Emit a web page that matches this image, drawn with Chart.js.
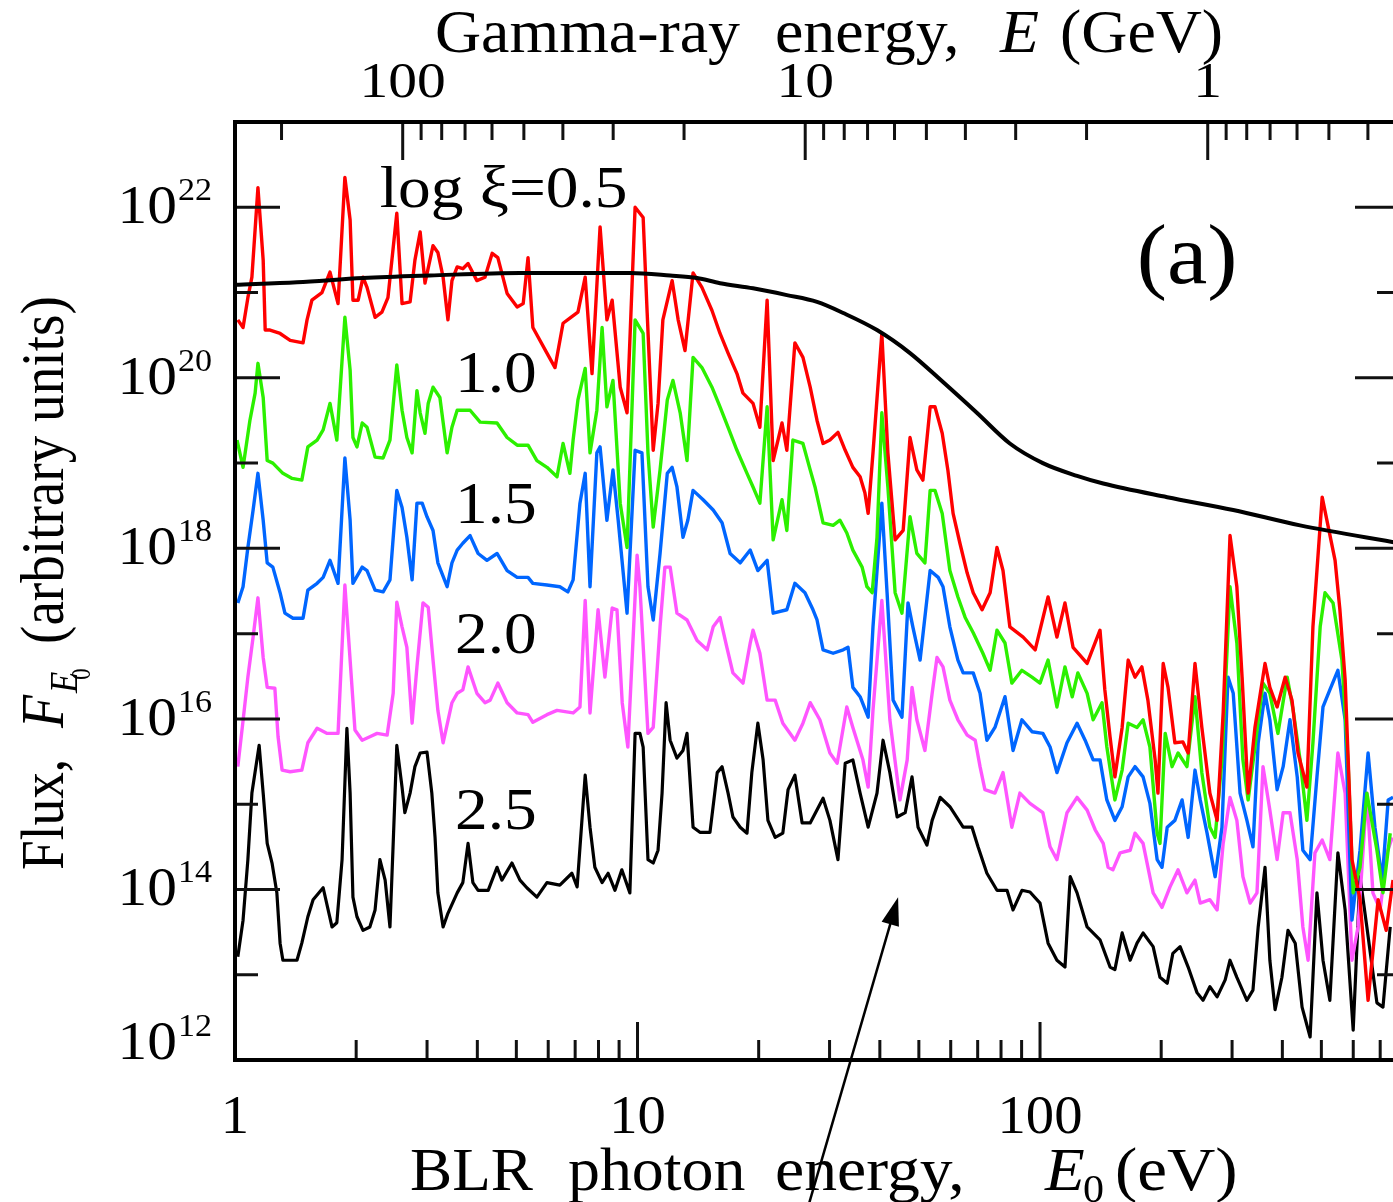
<!DOCTYPE html>
<html>
<head>
<meta charset="utf-8">
<script src="https://cdn.jsdelivr.net/npm/chart.js@4.4.0/dist/chart.umd.min.js"></script>
<style>
  html, body { margin: 0; padding: 0; background: #fff; overflow: hidden; }
  canvas { display: block; }
</style>
</head>
<body>
<canvas id="spectrum-chart" width="1402" height="1202"></canvas>
<script>
// ==== data (log10 of E0 in eV, log10 of flux) ====
var redLogE0 = [.007,.020,.032,.042,.057,.070,.075,.087,.112,.137,.169,.179,.191,.216,.236,.256,.273,.286,.293,.306,.318,.328,.348,.365,.380,.402,.415,.435,.447,.460,.472,.492,.504,.517,.529,.539,.552,.566,.579,.601,.621,.639,.653,.676,.701,.716,.728,.740,.775,.795,.815,.832,.852,.870,.887,.907,.924,.937,.957,.974,.994,1.014,1.024,1.039,1.051,1.063,1.086,1.101,1.118,1.138,1.160,1.185,1.205,1.225,1.247,1.262,1.287,1.304,1.322,1.337,1.359,1.371,1.391,1.411,1.429,1.446,1.461,1.478,1.498,1.516,1.535,1.553,1.565,1.573,1.585,1.607,1.622,1.640,1.660,1.677,1.694,1.709,1.727,1.739,1.757,1.771,1.784,1.801,1.819,1.834,1.856,1.876,1.893,1.908,1.925,1.958,1.988,2.020,2.042,2.062,2.082,2.117,2.149,2.161,2.174,2.186,2.204,2.219,2.236,2.253,2.268,2.286,2.293,2.306,2.318,2.335,2.355,2.368,2.385,2.402,2.422,2.440,2.455,2.472,2.489,2.502,2.517,2.534,2.559,2.571,2.589,2.609,2.626,2.641,2.663,2.678,2.701,2.733,2.745,2.758,2.775,2.795,2.815,2.840,2.860,2.877];
var redLogF = [20.68,20.59,20.94,21.18,22.23,21.38,20.56,20.56,20.52,20.44,20.41,20.68,20.91,21.00,21.24,20.87,22.35,21.85,20.91,20.91,21.18,21.06,20.71,20.77,20.94,21.93,20.87,20.89,21.38,21.71,21.11,21.55,21.47,21.18,20.68,21.14,21.30,21.28,21.34,21.14,21.18,21.46,21.41,20.99,20.83,20.87,21.41,20.59,20.29,20.12,20.64,20.70,20.77,21.18,20.05,21.77,20.68,20.91,19.89,19.59,22.00,21.88,20.76,19.15,19.70,20.68,21.14,20.68,20.32,21.23,21.06,20.79,20.52,20.29,20.05,19.82,19.70,19.42,20.91,19.03,19.47,19.15,20.41,20.24,19.89,19.50,19.23,19.27,19.36,19.15,18.95,18.84,18.65,18.41,19.12,20.52,19.12,18.10,18.21,19.30,18.92,18.80,19.66,19.66,19.35,18.92,18.41,18.06,17.71,17.48,17.28,17.48,18.01,17.74,17.08,16.96,16.81,17.43,16.96,17.36,16.84,16.65,17.04,16.34,15.79,15.32,15.90,16.69,16.49,16.61,16.22,15.52,15.13,16.65,16.37,15.72,15.73,15.60,16.65,15.90,15.13,14.81,16.07,18.15,17.55,16.49,15.13,15.90,16.65,16.37,16.14,16.49,16.22,15.60,15.20,17.08,18.60,17.86,17.28,16.46,14.35,13.88,12.70,13.88,13.52,14.11];

var greenLogE0 = [.005,.020,.037,.050,.057,.070,.080,.094,.119,.142,.166,.181,.204,.219,.236,.253,.273,.286,.293,.303,.316,.328,.348,.368,.385,.402,.415,.427,.440,.452,.460,.472,.480,.492,.509,.527,.539,.552,.584,.609,.651,.676,.701,.728,.750,.775,.800,.815,.832,.840,.852,.870,.882,.899,.912,.924,.939,.957,.974,.994,1.014,1.026,1.039,1.056,1.074,1.088,1.106,1.123,1.138,1.160,1.185,1.205,1.225,1.247,1.272,1.287,1.304,1.322,1.337,1.359,1.371,1.386,1.411,1.429,1.441,1.461,1.486,1.503,1.520,1.535,1.558,1.570,1.583,1.595,1.607,1.622,1.640,1.657,1.677,1.694,1.714,1.727,1.739,1.757,1.776,1.796,1.814,1.834,1.858,1.876,1.893,1.913,1.930,1.955,1.980,2.000,2.020,2.042,2.062,2.080,2.094,2.117,2.132,2.154,2.166,2.186,2.204,2.219,2.241,2.256,2.273,2.291,2.298,2.311,2.328,2.343,2.365,2.385,2.402,2.422,2.435,2.452,2.472,2.489,2.504,2.517,2.534,2.554,2.571,2.591,2.614,2.629,2.646,2.663,2.678,2.696,2.708,2.728,2.750,2.765,2.778,2.795,2.812,2.837,2.852,2.870];
var greenLogF = [19.27,18.95,19.50,19.82,20.17,19.77,19.03,19.00,18.88,18.82,18.80,19.19,19.27,19.39,19.70,19.27,20.71,20.09,19.30,19.19,19.47,19.42,19.07,19.06,19.27,20.15,19.62,19.30,19.12,19.85,19.59,19.35,19.70,19.89,19.77,19.12,19.42,19.62,19.62,19.48,19.47,19.30,19.21,19.21,19.03,18.95,18.84,19.23,18.88,19.27,19.74,20.11,19.12,19.62,20.59,19.66,19.97,18.53,18.01,20.68,20.52,19.12,18.25,18.92,19.74,19.97,19.59,19.03,20.24,20.12,19.89,19.66,19.42,19.15,18.88,18.72,18.53,19.66,18.10,18.57,18.21,19.27,19.23,18.92,18.72,18.30,18.27,18.33,18.18,17.98,17.78,17.55,17.48,18.13,19.59,18.72,17.48,17.24,18.37,17.94,17.83,18.68,18.68,18.41,17.74,17.43,17.19,17.01,16.77,16.57,17.04,16.89,16.42,16.57,16.49,16.42,16.69,16.14,16.61,16.26,16.54,16.30,15.99,16.19,15.67,15.05,15.40,15.95,15.90,15.99,15.67,14.66,14.54,15.83,15.44,15.60,15.44,16.26,15.37,14.73,14.61,15.52,17.55,16.89,15.52,15.05,15.67,16.42,16.30,15.83,16.49,16.10,15.52,14.81,15.72,17.08,17.48,17.36,16.69,15.52,13.96,14.26,15.13,14.46,13.96,14.66];

var blueLogE0 = [.007,.020,.032,.045,.057,.070,.080,.094,.112,.124,.144,.169,.181,.204,.219,.236,.256,.273,.286,.293,.316,.328,.348,.368,.385,.402,.415,.427,.440,.452,.465,.477,.492,.504,.527,.539,.552,.566,.584,.604,.626,.651,.676,.701,.728,.740,.775,.807,.827,.840,.857,.870,.882,.899,.907,.924,.939,.952,.974,.994,1.011,1.026,1.039,1.056,1.074,1.086,1.098,1.113,1.125,1.138,1.163,1.188,1.210,1.230,1.255,1.280,1.299,1.322,1.337,1.371,1.391,1.416,1.436,1.446,1.461,1.486,1.511,1.523,1.535,1.553,1.573,1.585,1.607,1.620,1.635,1.657,1.672,1.684,1.702,1.727,1.747,1.759,1.776,1.796,1.809,1.834,1.851,1.868,1.888,1.913,1.933,1.955,1.980,2.007,2.025,2.042,2.067,2.092,2.112,2.132,2.149,2.166,2.186,2.204,2.219,2.236,2.256,2.273,2.291,2.303,2.316,2.335,2.353,2.368,2.385,2.398,2.415,2.435,2.452,2.467,2.480,2.497,2.514,2.529,2.542,2.559,2.571,2.589,2.604,2.621,2.639,2.653,2.671,2.688,2.703,2.720,2.740,2.758,2.775,2.795,2.815,2.832,2.850,2.865,2.877];
var blueLogF = [17.36,17.55,18.01,18.45,18.88,18.33,17.83,17.78,17.48,17.24,17.18,17.18,17.51,17.59,17.66,17.86,17.59,19.06,18.33,17.59,17.78,17.74,17.51,17.49,17.63,18.68,18.48,18.13,17.63,18.53,18.53,18.37,18.21,17.83,17.55,17.83,17.98,18.06,18.15,17.94,17.86,17.94,17.74,17.66,17.66,17.59,17.57,17.55,17.49,17.63,18.53,18.88,17.55,19.12,19.19,18.33,18.92,18.33,17.24,19.15,19.12,17.55,17.16,17.94,18.88,18.95,18.72,18.13,18.33,18.68,18.57,18.45,18.30,17.94,17.83,17.98,17.74,17.86,17.24,17.28,17.59,17.48,17.28,17.16,16.81,16.77,16.81,16.84,16.37,16.26,16.02,17.08,18.53,17.48,16.22,16.02,17.36,17.08,16.69,17.74,17.66,17.55,17.08,16.69,16.54,16.54,16.30,15.75,15.90,16.26,15.63,15.99,15.85,15.83,15.67,15.37,15.72,15.95,15.75,15.52,15.52,15.05,14.81,14.97,15.32,15.44,15.32,15.01,14.35,14.26,14.73,14.81,15.05,14.61,15.40,15.05,14.66,14.15,14.73,16.49,16.30,15.13,14.81,14.50,15.72,16.30,15.99,15.17,15.44,15.99,15.32,14.46,14.35,15.32,16.14,16.34,16.57,15.99,13.64,14.46,15.60,14.73,14.11,15.05,15.08];

var magentaLogE0 = [.007,.020,.032,.045,.057,.070,.080,.099,.107,.117,.137,.166,.181,.204,.229,.256,.273,.286,.298,.316,.335,.353,.378,.393,.402,.415,.427,.440,.452,.467,.480,.492,.504,.517,.539,.552,.566,.579,.601,.621,.634,.653,.676,.701,.728,.740,.775,.800,.840,.857,.870,.882,.902,.919,.937,.949,.962,.976,.999,1.006,1.026,1.039,1.056,1.068,1.081,1.098,1.123,1.148,1.173,1.188,1.205,1.222,1.237,1.262,1.280,1.287,1.304,1.322,1.342,1.361,1.391,1.411,1.429,1.453,1.478,1.496,1.520,1.535,1.560,1.573,1.585,1.607,1.627,1.652,1.670,1.682,1.694,1.714,1.732,1.744,1.759,1.776,1.796,1.819,1.839,1.851,1.863,1.888,1.908,1.930,1.950,1.975,2.007,2.025,2.042,2.067,2.092,2.117,2.137,2.157,2.169,2.181,2.199,2.224,2.236,2.256,2.281,2.303,2.323,2.343,2.365,2.385,2.398,2.422,2.440,2.455,2.472,2.489,2.504,2.522,2.539,2.554,2.571,2.589,2.604,2.621,2.639,2.653,2.666,2.683,2.701,2.720,2.740,2.758,2.775,2.790,2.812,2.827,2.845,2.862,2.875];
var magentaLogF = [15.44,15.98,16.49,16.96,17.42,16.72,16.37,16.36,15.79,15.40,15.38,15.40,15.72,15.89,15.83,15.83,17.57,16.69,15.87,15.75,15.79,15.83,15.81,16.30,17.37,17.08,16.84,15.95,16.61,17.36,17.31,16.69,16.10,15.72,16.19,16.30,16.34,16.61,16.30,16.19,16.22,16.42,16.19,16.07,16.05,15.96,16.05,16.10,16.07,16.14,17.39,16.07,17.28,16.49,17.30,17.28,16.19,15.67,17.92,17.55,15.83,15.90,17.08,17.78,17.78,17.24,17.16,16.92,16.81,17.08,17.19,16.84,16.54,16.42,16.89,17.04,16.77,16.22,16.22,15.95,15.75,15.95,16.19,15.99,15.60,15.48,16.14,15.90,15.52,15.20,16.10,17.39,15.99,15.05,15.52,16.37,15.99,15.63,16.30,16.72,16.61,16.22,15.99,15.81,15.75,15.44,15.17,15.13,15.37,14.73,15.13,15.01,14.90,14.50,14.35,14.90,15.08,14.93,14.70,14.54,14.26,14.23,14.43,14.46,14.66,14.54,13.96,13.79,14.03,14.23,13.96,14.11,13.84,13.88,13.76,14.54,15.08,14.81,14.15,13.84,13.96,15.44,14.93,14.35,14.90,14.90,14.35,13.56,13.17,14.43,14.58,14.35,15.60,15.13,13.17,13.56,15.13,13.96,13.76,14.43,14.61];

var blackLogE0 = [.007,.020,.032,.042,.060,.070,.080,.092,.104,.112,.119,.154,.166,.181,.194,.219,.241,.253,.266,.278,.286,.293,.303,.318,.335,.348,.360,.373,.385,.393,.402,.415,.422,.435,.447,.460,.477,.489,.497,.504,.517,.529,.552,.566,.579,.591,.604,.629,.651,.663,.688,.708,.725,.750,.775,.807,.837,.850,.870,.882,.894,.912,.927,.944,.961,.981,.994,1.006,1.014,1.026,1.039,1.051,1.061,1.071,1.081,1.098,1.113,1.123,1.138,1.155,1.180,1.198,1.210,1.225,1.237,1.255,1.272,1.284,1.299,1.312,1.324,1.342,1.361,1.374,1.391,1.409,1.429,1.461,1.478,1.498,1.516,1.535,1.553,1.573,1.595,1.610,1.627,1.645,1.665,1.682,1.697,1.719,1.732,1.752,1.776,1.809,1.831,1.846,1.868,1.893,1.918,1.933,1.955,1.975,2.000,2.020,2.042,2.062,2.075,2.092,2.117,2.149,2.174,2.186,2.204,2.224,2.241,2.256,2.281,2.298,2.316,2.330,2.348,2.368,2.390,2.405,2.422,2.440,2.460,2.472,2.489,2.514,2.529,2.542,2.559,2.571,2.584,2.601,2.616,2.634,2.651,2.671,2.688,2.703,2.720,2.740,2.758,2.778,2.795,2.812,2.837,2.852,2.870];
var blackLogF = [13.21,13.64,14.35,15.13,15.69,15.13,14.54,14.31,13.96,13.37,13.17,13.17,13.37,13.68,13.88,14.02,13.56,13.61,14.35,15.89,15.13,13.91,13.68,13.52,13.56,13.76,14.35,14.11,13.56,14.54,15.69,15.20,14.90,15.13,15.44,15.60,15.61,15.13,14.61,13.96,13.56,13.72,13.96,14.08,14.54,14.08,13.99,13.99,14.26,14.11,14.31,14.11,14.02,13.91,14.08,14.05,14.19,14.03,15.34,14.73,14.26,14.08,14.19,13.99,14.23,13.96,15.83,15.83,15.67,14.35,14.31,14.46,15.13,16.19,15.75,15.54,15.63,15.83,14.73,14.67,14.67,15.37,15.44,15.13,14.85,14.73,14.66,15.37,15.95,15.52,14.81,14.61,14.66,15.17,15.34,14.78,14.78,15.07,14.81,14.35,15.48,15.52,15.13,14.73,15.13,15.75,15.37,14.85,14.90,15.32,14.73,14.52,14.81,15.08,14.97,14.73,14.73,14.50,14.19,13.99,13.99,13.76,13.99,13.97,13.84,13.37,13.17,13.09,14.15,13.96,13.56,13.41,13.09,13.06,13.49,13.17,13.37,13.49,13.33,12.97,12.90,13.25,13.33,13.09,12.79,12.70,12.86,12.74,12.94,13.17,12.97,12.70,12.82,13.56,14.26,13.17,12.59,12.97,13.52,13.37,12.62,12.27,13.96,13.17,12.70,14.43,13.76,12.35,14.15,13.56,12.67,12.62,13.56];

// smooth black curve
var curveLogE0 = [0,.154,.318,.484,.708,.981,1.081,1.148,1.205,1.287,1.371,1.446,1.511,1.595,1.677,1.759,1.843,1.925,2.007,2.092,2.157,2.316,2.480,2.646,2.894];
var curveLogF = [21.09,21.12,21.17,21.20,21.23,21.23,21.20,21.17,21.11,21.05,20.97,20.89,20.76,20.56,20.29,19.95,19.59,19.23,19.00,18.85,18.76,18.60,18.45,18.27,18.06];

// axes
var e0Min = 1, e0Max = 784;          // BLR photon energy range (eV)
var gammaTimesE0 = 261;              // E (GeV) = 261 / E0 (eV), top axis
var fluxMin = 1e12, fluxMax = 1e23;
var bottomTickLabels = [1, 10, 100];
var topTickLabels = [100, 10, 1];
var yLabelExps = [12, 14, 16, 18, 20, 22];

// curve labels (E0, log flux at text baseline)
var curveLabelText = ['log \u03be=0.5', '1.0', '1.5', '2.0', '2.5'];
var curveLabelE0 = [2.29, 3.52, 3.52, 3.52, 3.52];
var curveLabelLogF = [22.0, 19.83, 18.30, 16.77, 14.71];

var SERIF = '"Liberation Serif", "Times New Roman", serif';
function font(size, italic) { return (italic ? 'italic ' : '') + size + 'px ' + SERIF; }

function toPoints(logE0, logF) {
    return logE0.map(function (lx, i) { return { x: Math.pow(10, lx), y: Math.pow(10, logF[i]) }; });
}

// the figure's lettering is a little wider than plain Times, so text gets a horizontal stretch
function drawText(ctx, text, x, y, size, o) {
    o = o || {};
    ctx.save();
    ctx.translate(x, y);
    if (o.rotate) ctx.rotate(o.rotate);
    ctx.scale(o.sx || 1, 1);
    ctx.font = font(size, o.italic);
    ctx.textAlign = o.align || 'left';
    ctx.fillText(text, 0, 0);
    ctx.restore();
}

// ====Axes, frame and text drawn the way the paper figure does it====
var paperAxes = {
    id: 'paperAxes',
    afterDatasetsDraw: function (chart) {
        var ctx = chart.ctx, a = chart.chartArea;
        var sx = chart.scales.x, sy = chart.scales.y;
        ctx.save();

        // inward ticks
        ctx.strokeStyle = '#111';
        ctx.lineWidth = 3;
        ctx.beginPath();
        [1, 10, 100].forEach(function (dec) {
            for (var m = 1; m <= 9; m++) {
                var v = m * dec;
                if (v > e0Max) break;
                var px = sx.getPixelForValue(v), len = m === 1 ? 38 : 20;
                ctx.moveTo(px, a.bottom); ctx.lineTo(px, a.bottom - len);
            }
        });
        [0.1, 1, 10, 100].forEach(function (dec) {
            for (var m = 1; m <= 9; m++) {
                var e0 = gammaTimesE0 / (m * dec);
                if (e0 < e0Min || e0 > e0Max) continue;
                var px = sx.getPixelForValue(e0), len = m === 1 ? 38 : 18;
                ctx.moveTo(px, a.top); ctx.lineTo(px, a.top + len);
            }
        });
        for (var e = 13; e <= 22; e++) {
            var py = sy.getPixelForValue(Math.pow(10, e)), len = e % 2 === 0 ? 45 : 23;
            ctx.moveTo(a.left, py); ctx.lineTo(a.left + len, py);
            ctx.moveTo(a.right, py); ctx.lineTo(a.right - len, py);
        }
        ctx.stroke();

        // frame
        ctx.strokeStyle = '#000';
        ctx.lineWidth = 4;
        ctx.strokeRect(a.left, a.top, a.right - a.left, a.bottom - a.top);

        ctx.fillStyle = '#000';
        ctx.textBaseline = 'alphabetic';

        // y tick labels 10^n (the lowest one sits raised above the axis)
        yLabelExps.forEach(function (n) {
            var py = sy.getPixelForValue(Math.pow(10, n)) - (n === yLabelExps[0] ? 17 : 0);
            drawText(ctx, '10', a.left - 58, py + 16, 54, { align: 'right', sx: 1.1 });
            drawText(ctx, String(n), a.left - 57, py - 7, 31, { sx: 1.1 });
        });

        // bottom and top tick labels
        bottomTickLabels.forEach(function (v) {
            drawText(ctx, String(v), sx.getPixelForValue(v), a.bottom + 73, 54, { align: 'center', sx: 1.05 });
        });
        topTickLabels.forEach(function (v) {
            drawText(ctx, String(v), sx.getPixelForValue(gammaTimesE0 / v), a.top - 25, 50, { align: 'center', sx: 1.15 });
        });

        // axis titles
        drawText(ctx, 'Gamma-ray', 435, 52, 62, { sx: 1.03 });
        drawText(ctx, 'energy,', 775, 52, 62, { sx: 1.03 });
        drawText(ctx, 'E', 1000, 52, 62, { sx: 1.03, italic: true });
        drawText(ctx, '(GeV)', 1060, 52, 62, { sx: 1.03 });

        drawText(ctx, 'BLR', 410, 1190, 62, { sx: 1.02 });
        drawText(ctx, 'photon', 568, 1190, 62, { sx: 1.03 });
        drawText(ctx, 'energy,', 775, 1190, 62, { sx: 1.06 });
        drawText(ctx, 'E', 1045, 1190, 62, { sx: 1.05, italic: true });
        drawText(ctx, '0', 1083, 1202, 40, { sx: 1.05 });
        drawText(ctx, '(eV)', 1115, 1190, 62, { sx: 1.08 });

        var up = -Math.PI / 2;
        drawText(ctx, 'Flux,', 63, 870, 62, { rotate: up, sx: 0.86 });
        drawText(ctx, 'F', 63, 728, 62, { rotate: up, sx: 0.87, italic: true });
        drawText(ctx, 'E', 77, 693, 40, { rotate: up, sx: 0.87, italic: true });
        drawText(ctx, '0', 90, 680, 27, { rotate: up, sx: 0.87 });
        drawText(ctx, '(arbitrary units)', 63, 644, 62, { rotate: up, sx: 0.89 });

        // curve labels and panel letter
        curveLabelText.forEach(function (t, i) {
            drawText(ctx, t, sx.getPixelForValue(curveLabelE0[i]), sy.getPixelForValue(Math.pow(10, curveLabelLogF[i])), 60, { sx: 1.09 });
        });
        drawText(ctx, '(a)', sx.getPixelForValue(174), sy.getPixelForValue(Math.pow(10, 21.11)), 84, { sx: 1.08 });

        // arrow pointing into the plot from below
        var tx = sx.getPixelForValue(44.4), ty = sy.getPixelForValue(8.1e13);
        var bx = sx.getPixelForValue(26.7), by = sy.getPixelForValue(2.1e10);
        var ang = Math.atan2(ty - by, tx - bx);
        ctx.strokeStyle = '#000';
        ctx.lineWidth = 2.5;
        ctx.beginPath();
        ctx.moveTo(bx, by);
        ctx.lineTo(tx - 20 * Math.cos(ang), ty - 20 * Math.sin(ang));
        ctx.stroke();
        ctx.beginPath();
        ctx.moveTo(tx, ty);
        ctx.lineTo(tx - 28 * Math.cos(ang) + 9 * Math.sin(ang), ty - 28 * Math.sin(ang) - 9 * Math.cos(ang));
        ctx.lineTo(tx - 28 * Math.cos(ang) - 9 * Math.sin(ang), ty - 28 * Math.sin(ang) + 9 * Math.cos(ang));
        ctx.closePath();
        ctx.fill();

        ctx.restore();
    }
};

function spectrum(label, color, logE0, logF, width) {
    return {
        label: label,
        data: toPoints(logE0, logF),
        borderColor: color,
        borderWidth: width,
        pointRadius: 0,
        tension: 0,
        borderJoinStyle: 'round',
        fill: false
    };
}

var spectrumCtx = document.getElementById('spectrum-chart').getContext('2d');

// ====Flux spectra, log-log====
var spectrumChart = new Chart(spectrumCtx, {
    type: 'line',
    data: {
        datasets: [
            Object.assign(spectrum('curve', '#000000', curveLogE0, curveLogF, 4), { cubicInterpolationMode: 'monotone' }),
            spectrum('log xi = 0.5', '#ff0000', redLogE0, redLogF, 3.4),
            spectrum('log xi = 1.0', '#2cf000', greenLogE0, greenLogF, 3.4),
            spectrum('log xi = 1.5', '#0066ff', blueLogE0, blueLogF, 3.4),
            spectrum('log xi = 2.0', '#ff55ff', magentaLogE0, magentaLogF, 3.4),
            spectrum('log xi = 2.5', '#000000', blackLogE0, blackLogF, 3.2)
        ]
    },
    options: {
        responsive: false,
        animation: false,
        events: [],
        layout: { padding: { left: 235, top: 122, right: 2, bottom: 142 } },
        plugins: { legend: { display: false }, tooltip: { enabled: false } },
        scales: {
            x: { type: 'logarithmic', bounds: 'data', min: e0Min, max: e0Max, display: false },
            y: { type: 'logarithmic', bounds: 'data', min: fluxMin, max: fluxMax, display: false }
        }
    },
    plugins: [paperAxes]
});
</script>
</body>
</html>
